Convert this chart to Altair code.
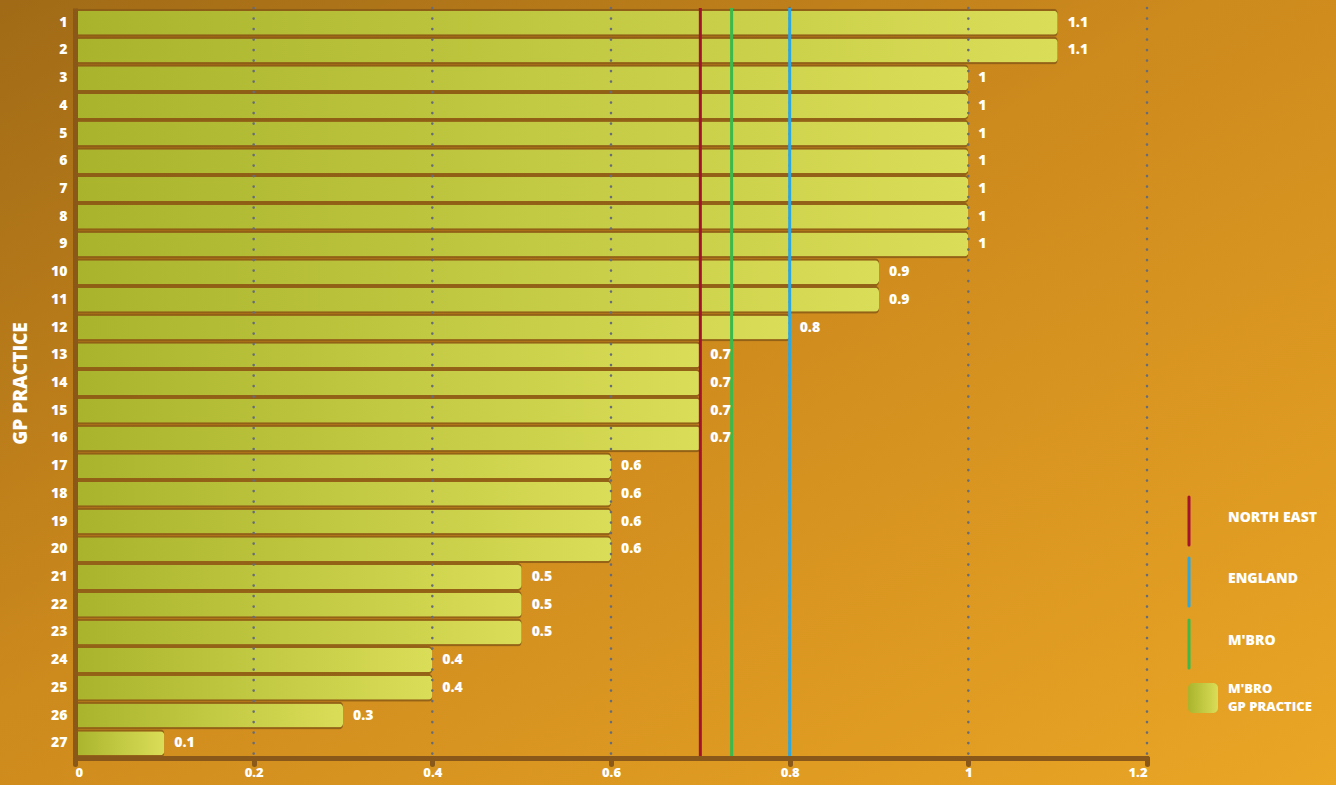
import altair as alt
import pandas as pd

# Practice ranking and values
practices = [str(i) for i in range(1, 28)]
values = [1.1, 1.1, 1.0, 1.0, 1.0, 1.0, 1.0, 1.0, 1.0, 0.9, 0.9, 0.8,
          0.7, 0.7, 0.7, 0.7, 0.6, 0.6, 0.6, 0.6, 0.5, 0.5, 0.5, 0.4, 0.4, 0.3, 0.1]

# Benchmark lines
ref_names = ["NORTH EAST", "ENGLAND", "M'BRO"]
ref_values = [0.7, 0.8, 0.735]
ref_colors = ["#a3122e", "#2ea6df", "#3cb94a"]

x_ticks = [0, 0.2, 0.4, 0.6, 0.8, 1.0, 1.2]
grid_values = [0.2, 0.4, 0.6, 0.8, 1.0, 1.2]

W, H = 1072, 750
PAD_L, PAD_T, PAD_R, PAD_B = 75, 8, 189, 27
FONT = "Open Sans"
WHITE = "#ffffff"
BROWN = "#8a5818"

bars_df = pd.DataFrame({"practice": practices, "value": values})
refs_df = pd.DataFrame({"name": ref_names, "value": ref_values, "color": ref_colors})
grid_df = pd.DataFrame({"value": grid_values})

x_scale = alt.Scale(domain=[0, 1.2], nice=False, zero=True)
y_scale = alt.Scale(paddingInner=0.134, paddingOuter=0.1)

bar_gradient = alt.LinearGradient(
    gradient="linear", x1=0, x2=1, y1=0, y2=0,
    stops=[alt.GradientStop(offset=0, color="#a9b42c"),
           alt.GradientStop(offset=1, color="#dadd57")],
)
bg_gradient = alt.LinearGradient(
    gradient="linear", x1=0, y1=0, x2=1, y2=1,
    stops=[alt.GradientStop(offset=0, color="#a06a16"),
           alt.GradientStop(offset=0.45, color="#cd8a1d"),
           alt.GradientStop(offset=1, color="#eaa625")],
)

# Full-canvas background
background = alt.Chart(alt.Data(values=[{"k": 1}])).mark_rect(fill=bg_gradient).encode(
    x=alt.value(-PAD_L), x2=alt.value(W + PAD_R),
    y=alt.value(-PAD_T), y2=alt.value(H + PAD_B),
)

base = alt.Chart(bars_df)

y_enc = alt.Y(
    "practice:N", sort=None, scale=y_scale,
    axis=alt.Axis(
        title="GP PRACTICE", titleFont=FONT, titleFontSize=19, titleFontWeight=800,
        titleColor=WHITE, titlePadding=20,
        labelFont=FONT, labelFontSize=14, labelFontWeight=800, labelColor=WHITE,
        labelPadding=8, ticks=False, domainColor=BROWN, domainWidth=5, zindex=1,
    ),
)
x_enc = alt.X(
    "value:Q", scale=x_scale,
    axis=alt.Axis(
        title=None, values=x_ticks, format=".1~f", grid=False,
        labelFont=FONT, labelFontSize=13, labelFontWeight=800, labelColor=WHITE,
        labelPadding=2, domainColor=BROWN, domainWidth=5, domainCap="round",
        tickColor=BROWN, tickWidth=5, tickSize=6, tickCap="round", zindex=1,
    ),
)

# Dark shadow band behind each bar
shadow = base.mark_bar(color="#8a5a16", opacity=0.85, size=28, cornerRadiusEnd=4).encode(
    x=x_enc, y=y_enc,
)

bars = base.mark_bar(fill=bar_gradient, cornerRadiusEnd=4).encode(
    x=alt.X("value:Q", scale=x_scale), y=alt.Y("practice:N", sort=None, scale=y_scale),
)

labels = base.mark_text(
    align="left", baseline="middle", dx=10, font=FONT, fontSize=14,
    fontWeight=800, color=WHITE,
).encode(
    x=alt.X("value:Q", scale=x_scale), y=alt.Y("practice:N", sort=None, scale=y_scale),
    text=alt.Text("value:Q", format=".1~f"),
)

grid = alt.Chart(grid_df).mark_rule(
    color="#676c7a", strokeWidth=2.6, strokeDash=[0.1, 10.4], strokeCap="round",
).encode(x=alt.X("value:Q", scale=x_scale))

ref_rules = alt.Chart(refs_df).mark_rule(strokeWidth=3).encode(
    x=alt.X("value:Q", scale=x_scale),
    color=alt.Color("color:N", scale=None),
)

# Legend built from rules and text on the right
legend_layers = []
legend_tops = [489, 550, 612]
for name, color, top in zip(ref_names, ref_colors, legend_tops):
    src = alt.Data(values=[{"label": name}])
    legend_layers.append(
        alt.Chart(src).mark_rule(color=color, strokeWidth=3, strokeCap="round").encode(
            x=alt.value(1114), y=alt.value(top), y2=alt.value(top + 48)))
    legend_layers.append(
        alt.Chart(src).mark_text(align="left", baseline="middle", font=FONT, fontSize=14,
                                 fontWeight=800, color=WHITE).encode(
            x=alt.value(1153), y=alt.value(top + 21), text="label:N"))

legend_layers.append(
    alt.Chart(alt.Data(values=[{"k": 1}])).mark_rect(fill=bar_gradient, cornerRadius=5).encode(
        x=alt.value(1113), x2=alt.value(1143), y=alt.value(675), y2=alt.value(705)))
for txt, ypos in [("M'BRO", 681), ("GP PRACTICE", 699)]:
    legend_layers.append(
        alt.Chart(alt.Data(values=[{"t": txt}])).mark_text(
            align="left", baseline="middle", font=FONT, fontSize=13, fontWeight=800, color=WHITE,
        ).encode(x=alt.value(1153), y=alt.value(ypos), text="t:N"))

chart = alt.layer(
    background, shadow, bars, grid, ref_rules, labels, *legend_layers
).properties(
    width=W, height=H,
    autosize=alt.AutoSizeParams(type="none"),
    padding={"left": PAD_L, "top": PAD_T, "right": PAD_R, "bottom": PAD_B},
    background="#c8861c",
).configure_view(stroke=None)

chart.save("out.html", embed_options={"renderer": "svg", "actions": False})
